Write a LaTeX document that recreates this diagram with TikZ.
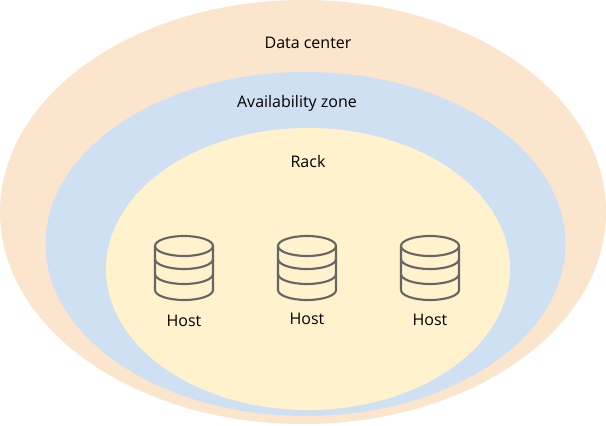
\documentclass[tikz,border=0pt]{standalone}
\usepackage{fontspec}
\setmainfont{Open Sans}
\definecolor{dcfill}{HTML}{FCE5CD}
\definecolor{azfill}{HTML}{D0E0F3}
\definecolor{rackfill}{HTML}{FFF2CC}
\definecolor{iconline}{HTML}{666666}
\tikzset{
  zone/.style={draw=none},
  lbl/.style={font=\fontsize{12}{14}\selectfont},
  pics/dbhost/.style={code={
    \draw[iconline,line width=1.6pt,fill=rackfill]
      (-29,0) -- (-29,44) arc[start angle=180,end angle=0,x radius=29,y radius=10] -- (29,0);
    \draw[iconline,line width=1.6pt,fill=rackfill] (0,0) ellipse[x radius=29,y radius=10];
    \draw[iconline,line width=1.6pt] (-29,13) arc[start angle=180,end angle=0,x radius=29,y radius=10];
    \draw[iconline,line width=1.6pt] (-29,28) arc[start angle=180,end angle=0,x radius=29,y radius=10];
  }}
}
\begin{document}
\begin{tikzpicture}[x=0.75pt,y=-0.75pt]
  \useasboundingbox (0,0) rectangle (606,425);

  \fill[dcfill] (303,212) ellipse[x radius=303,y radius=212];
  \fill[azfill] (305.5,244) ellipse[x radius=260,y radius=172];
  \fill[rackfill] (308,269) ellipse[x radius=202,y radius=141];

  \node[lbl] (dc) at (308,43) {Data center};
  \node[lbl] (az) at (297,103) {Availability zone};
  \node[lbl] (rack) at (308,161) {Rack};

  \foreach \x/\y/\n in {184/321/1, 307/319/2, 430/320/3} {
    \pic at (\x,246) {dbhost};
    \node[lbl] (host\n) at (\x,\y) {Host};
  }
\end{tikzpicture}
\end{document}
